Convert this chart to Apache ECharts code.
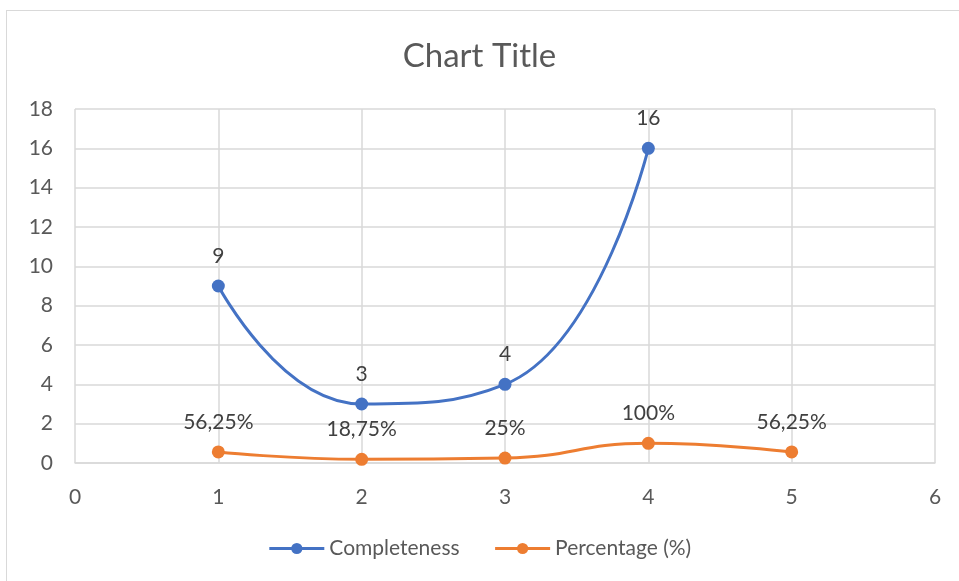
<!DOCTYPE html>
<html>
<head>
<meta charset="utf-8">
<script src="https://cdn.jsdelivr.net/npm/echarts@6/dist/echarts.min.js"></script>
<style>
html,body{margin:0;padding:0;background:#fff;}
#frame{position:absolute;left:6px;top:10px;width:1000px;height:1000px;border:1.5px solid #d9d9d9;box-sizing:border-box;}
#chart{position:absolute;left:0;top:0;width:959px;height:581px;}
</style>
</head>
<body>
<div id="frame"></div>
<div id="chart"></div>
<script>
const completenessX = [1, 2, 3, 4];
const completenessY = [9, 3, 4, 16];
const percentageX = [1, 2, 3, 4, 5];
const percentageY = [0.5625, 0.1875, 0.25, 1, 0.5625];
const seriesNames = ['Completeness', 'Percentage (%)'];

const font = 'Lato, "Open Sans", sans-serif';
const grey = '#595959';
function pct(v){ return (Math.round(v*10000)/100).toString().replace('.', ',') + '%'; }

const chart = echarts.init(document.getElementById('chart'), null, {renderer:'canvas'});
chart.setOption({
  animation:false,
  title:{text:'Chart Title', left:'center', top:35, textStyle:{fontFamily:font, fontSize:33, fontWeight:'normal', color:grey}},
  grid:{left:75, right:24, top:109, bottom:118},
  legend:{
    bottom:17, left:'center', itemWidth:55, itemHeight:14, itemGap:34,
    textStyle:{fontFamily:font, fontSize:21, color:grey},
    lineStyle:{width:3},
    data:seriesNames
  },
  xAxis:{type:'value', min:0, max:6, interval:1,
    axisLine:{show:true, lineStyle:{color:'#d9d9d9', width:1.5}},
    axisTick:{show:false},
    axisLabel:{fontFamily:font, fontSize:21, color:grey, margin:24},
    splitLine:{show:true, lineStyle:{color:'#d9d9d9', width:1.5}}
  },
  yAxis:{type:'value', min:0, max:18, interval:2,
    axisLine:{show:false}, axisTick:{show:false},
    axisLabel:{fontFamily:font, fontSize:21, color:grey, margin:22},
    splitLine:{show:true, lineStyle:{color:'#d9d9d9', width:1.5}}
  },
  series:[
    {name:seriesNames[0], type:'line', smooth:0.5, symbol:'circle', symbolSize:13,
     data:completenessX.map((x,i)=>[x, completenessY[i]]),
     itemStyle:{color:'#4472c4'}, lineStyle:{color:'#4472c4', width:3},
     label:{show:true, position:'top', distance:13, fontFamily:font, fontSize:21, color:'#404040',
       formatter:p=>String(p.value[1])}},
    {name:seriesNames[1], type:'line', smooth:0.5, symbol:'circle', symbolSize:13,
     data:percentageX.map((x,i)=>[x, percentageY[i]]),
     itemStyle:{color:'#ed7d31'}, lineStyle:{color:'#ed7d31', width:3},
     label:{show:true, position:'top', distance:13, fontFamily:font, fontSize:21, color:'#404040',
       formatter:p=>pct(p.value[1])}}
  ]
});
</script>
</body>
</html>
